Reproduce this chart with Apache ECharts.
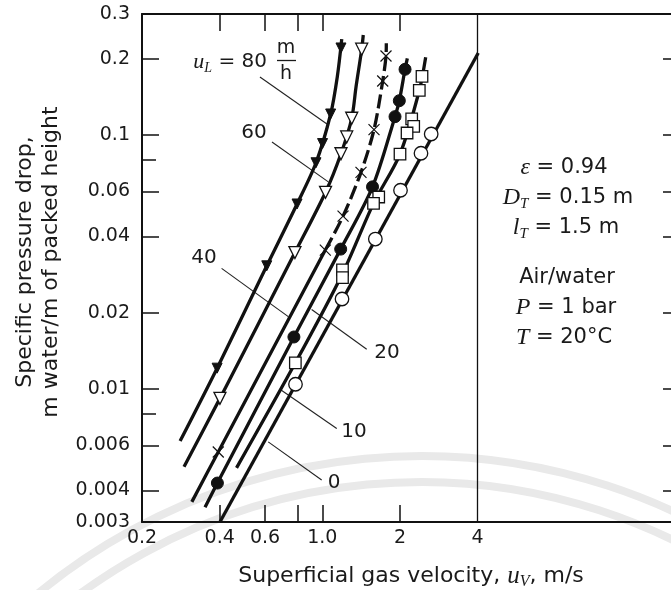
<!DOCTYPE html>
<html>
<head>
<meta charset="utf-8">
<title>Specific pressure drop vs superficial gas velocity</title>
<script src="https://cdn.jsdelivr.net/npm/echarts@6.0.0/dist/echarts.min.js"></script>
<style>
html,body{margin:0;padding:0;background:#ffffff;}
#chart{width:671px;height:590px;}
</style>
</head>
<body>
<div id="chart"></div>
<script>
// ---------- axis ticks and labels ----------
const xTickValues = [0.4, 0.6, 0.8, 1.0, 2];
const xLabelValues = [0.2, 0.4, 0.6, 1.0, 2, 4];
const xLabelTexts = ['0.2', '0.4', '0.6', '1.0', '2', '4'];
const yTickValues = [0.2, 0.1, 0.06, 0.04, 0.02, 0.01, 0.006, 0.004];
const yMinorTickValues = [0.08, 0.008];
const yLabelValues = [0.3, 0.2, 0.1, 0.06, 0.04, 0.02, 0.01, 0.006, 0.004, 0.003];
const yLabelTexts = ['0.3', '0.2', '0.1', '0.06', '0.04', '0.02', '0.01', '0.006', '0.004', '0.003'];
const rightTickValues = [0.2, 0.1, 0.06, 0.04, 0.02, 0.01, 0.006, 0.004];
const panelBoundary = 4;

// ---------- u_L = 80 m/h (filled down-triangles) ----------
const pts80 = [[1.181,0.2205],[1.077,0.1212],[1.002,0.0927],[0.945,0.0779],[0.798,0.0536],[0.609,0.0306],[0.391,0.0121]];
const curve80 = [[0.281,0.00625],[0.391,0.0121],[0.609,0.0306],[0.798,0.0536],[0.945,0.0779],[1.077,0.1212],[1.143,0.17],[1.189,0.239]];

// ---------- u_L = 60 (open down-triangles) ----------
const pts60 = [[1.421,0.218],[1.30,0.1166],[1.243,0.0984],[1.181,0.0845],[1.029,0.0596],[0.783,0.0345],[0.401,0.0092]];
const curve60 = [[0.291,0.00495],[0.401,0.0092],[0.783,0.0345],[1.029,0.0596],[1.181,0.0845],[1.30,0.1166],[1.351,0.155],[1.421,0.218],[1.441,0.248]];

// ---------- u_L = 40 (crosses) ----------
const pts40 = [[1.765,0.205],[1.714,0.1634],[1.586,0.1052],[1.412,0.0714],[1.203,0.048],[1.027,0.0353],[0.395,0.00566]];
const curve40Solid = [[0.312,0.0036],[0.395,0.00566],[1.027,0.0353]];
const curve40Dashed = [[1.027,0.0353],[1.203,0.048],[1.412,0.0714],[1.586,0.1052],[1.714,0.1634],[1.765,0.205],[1.77,0.23]];

// ---------- u_L = 20 (filled circles) ----------
const pts20 = [[2.092,0.1817],[1.988,0.1367],[1.913,0.1183],[1.565,0.0626],[1.178,0.0356],[0.776,0.01605],[0.392,0.00427]];
const curve20 = [[0.351,0.00343],[0.392,0.00427],[0.776,0.01605],[1.178,0.0356],[1.565,0.0626],[1.913,0.1183],[1.988,0.1367],[2.092,0.1817],[2.135,0.2007]];

// ---------- u_L = 10 (open squares) ----------
const pts10 = [[2.434,0.1705],[2.376,0.150],[2.22,0.116],[2.26,0.1084],[2.13,0.102],[2.0,0.0843],[1.654,0.0571],[1.579,0.0539],[1.197,0.0295],[1.197,0.0275],[0.786,0.0127]];
const curve10 = [[0.465,0.0049],[0.786,0.0127],[1.197,0.0285],[1.579,0.0539],[2.0,0.0843],[2.376,0.150],[2.515,0.2027]];

// ---------- u_L = 0 (open circles) ----------
const pts0 = [[2.642,0.1011],[2.412,0.0849],[2.009,0.0607],[1.605,0.039],[1.192,0.02265],[0.787,0.01046]];
const curve0 = [[0.401,0.003],[4.02,0.2107]];

// ---------- leader lines for curve labels ----------
const leader80 = [[0.573,0.1695],[1.042,0.1107]];
const leader60 = [[0.638,0.094],[1.055,0.0655]];
const leader40 = [[0.407,0.0299],[0.738,0.0193]];
const leader20 = [[1.486,0.01436],[0.909,0.0206]];
const leader10 = [[1.137,0.007],[0.685,0.00999]];
const leader0  = [[0.994,0.00439],[0.617,0.0062]];

// ---------- presentation ----------
const INK = '#111111';
const TXT = '#1a1a1a';
const SANS = '"DejaVu Sans", Verdana, sans-serif';
const SERIF = '"Liberation Serif", "Times New Roman", serif';
const FS_TICK = 19, FS_CURVE = 20, FS_NOTE = 21, FS_TITLE = 22;
const GRID_LEFT = 142, GRID_TOP = 14, GRID_RIGHT = -10, GRID_BOTTOM = 68;
const X_DECADE_PX = 258;
const XMIN = 0.2;
const XMAX = XMIN * Math.pow(10, (671 - GRID_RIGHT - GRID_LEFT) / X_DECADE_PX);
const YMIN = 0.003, YMAX = 0.3;

function lookup(vals, texts, v) {
  for (let i = 0; i < vals.length; i++) {
    if (Math.abs(vals[i] - v) / vals[i] < 1e-4) return texts[i];
  }
  return '';
}

function curve(pts, dashed) {
  return {
    type: 'line', data: pts, smooth: 0.3, symbol: 'none', silent: true, z: 3,
    lineStyle: { color: INK, width: 3.3, type: dashed ? [14, 5] : 'solid', cap: 'butt', opacity: 1 }
  };
}
function leader(pts) {
  return {
    type: 'line', data: pts, symbol: 'none', silent: true, z: 2,
    lineStyle: { color: '#222', width: 1.1, opacity: 1 }
  };
}
function markers(pts, symbol, size, filled, rotate, style) {
  return {
    type: 'scatter', data: pts, symbol: symbol, symbolSize: size, symbolRotate: rotate || 0,
    silent: true, z: 5,
    itemStyle: style || (filled
      ? { color: INK, borderColor: INK, borderWidth: 1, opacity: 1 }
      : { color: '#ffffff', borderColor: INK, borderWidth: 1.3, opacity: 1 })
  };
}

const chart = echarts.init(document.getElementById('chart'), null, { renderer: 'canvas' });

function richText(x, y, text, size, align) {
  const sz = size || FS_NOTE;
  return {
    type: 'text', x: x, y: y, silent: true, z: 10,
    style: {
      text: text, fill: TXT, fontFamily: SANS, fontSize: sz, lineHeight: 30,
      align: align || 'center', textAlign: align || 'center',
      verticalAlign: 'middle', textVerticalAlign: 'middle',
      rich: {
        i: { fontFamily: SERIF, fontStyle: 'italic', fontSize: Math.round(sz * 1.12), lineHeight: 30, fill: TXT, color: TXT },
        s: { fontFamily: SERIF, fontStyle: 'italic', fontSize: Math.round(sz * 0.72), lineHeight: 14, padding: [12, 0, 0, 0], fill: TXT, color: TXT }
      }
    }
  };
}

const option = {
  backgroundColor: '#ffffff',
  animation: false,
  grid: { left: GRID_LEFT, top: GRID_TOP, right: GRID_RIGHT, bottom: GRID_BOTTOM, containLabel: false, outerBoundsMode: 'none' },
  xAxis: [
    {
      type: 'log', logBase: 10, min: XMIN, max: XMAX, position: 'bottom',
      axisLine: { show: true, onZero: false, lineStyle: { color: INK, width: 2 } },
      axisTick: { show: true, inside: true, length: 17, customValues: xTickValues, lineStyle: { color: INK, width: 1.5 } },
      axisLabel: { show: true, customValues: xLabelValues, formatter: v => lookup(xLabelValues, xLabelTexts, v),
        color: TXT, fontSize: FS_TICK, fontFamily: SANS, margin: 7 },
      splitLine: { show: false }, minorTick: { show: false }
    },
    {
      type: 'log', logBase: 10, min: XMIN, max: XMAX, position: 'top',
      axisLine: { show: true, onZero: false, lineStyle: { color: INK, width: 2 } },
      axisTick: { show: true, inside: true, length: 17, customValues: xTickValues, lineStyle: { color: INK, width: 1.5 } },
      axisLabel: { show: false }, splitLine: { show: false }
    }
  ],
  yAxis: [
    {
      type: 'log', logBase: 10, min: YMIN, max: YMAX, position: 'left',
      axisLine: { show: true, onZero: false, lineStyle: { color: INK, width: 2 } },
      axisTick: { show: true, inside: true, length: 17, customValues: yTickValues, lineStyle: { color: INK, width: 1.5 } },
      axisLabel: { show: true, customValues: yLabelValues, formatter: v => lookup(yLabelValues, yLabelTexts, v),
        color: TXT, fontSize: FS_TICK, fontFamily: SANS, margin: 12 },
      splitLine: { show: false }, minorTick: { show: false }
    },
    {
      type: 'log', logBase: 10, min: YMIN, max: YMAX, position: 'right',
      axisLine: { show: false },
      axisTick: { show: true, inside: true, length: 18, customValues: rightTickValues, lineStyle: { color: INK, width: 1.5 } },
      axisLabel: { show: false }, splitLine: { show: false }
    },
    {
      type: 'log', logBase: 10, min: YMIN, max: YMAX, position: 'left',
      axisLine: { show: false },
      axisTick: { show: true, inside: true, length: 14, customValues: yMinorTickValues, lineStyle: { color: INK, width: 1.5 } },
      axisLabel: { show: false }, splitLine: { show: false }
    }
  ],
  series: [
    leader(leader80), leader(leader60), leader(leader40), leader(leader20), leader(leader10), leader(leader0),
    curve(curve80), curve(curve60), curve(curve40Solid), curve(curve40Dashed, true),
    curve(curve20), curve(curve10),
    Object.assign(curve(curve0), {
      markLine: { silent: true, symbol: 'none', label: { show: false },
        lineStyle: { color: INK, width: 1.3, type: 'solid', opacity: 1 }, data: [{ xAxis: panelBoundary }] }
    }),
    markers(pts80, 'triangle', 10, true, 180),
    markers(pts60, 'triangle', 12, false, 180),
    markers(pts40, 'path://M0,0L10,10M10,0L0,10', 11, false, 0,
      { color: 'none', borderColor: INK, borderWidth: 1.2, opacity: 1 }),
    markers(pts20, 'circle', 12, true),
    markers(pts10, 'rect', 11.5, false),
    markers(pts0, 'circle', 13.5, false)
  ],
  graphic: [
    // faint background arcs of the source page
    { type: 'arc', silent: true, z: -5, shape: { cx: 421, cy: 1058, r: 602, startAngle: -2.45, endAngle: -0.55 },
      style: { stroke: '#e9e9e9', lineWidth: 8, fill: 'none' } },
    { type: 'arc', silent: true, z: -5, shape: { cx: 421, cy: 1058, r: 576, startAngle: -2.45, endAngle: -0.55 },
      style: { stroke: '#e9e9e9', lineWidth: 8, fill: 'none' } },
    // axis titles
    { type: 'text', x: 25, y: 262, rotation: Math.PI / 2, silent: true,
      style: { text: 'Specific pressure drop,', fill: TXT, fontFamily: SANS, fontSize: FS_TITLE,
        align: 'center', textAlign: 'center', verticalAlign: 'middle', textVerticalAlign: 'middle' } },
    { type: 'text', x: 51, y: 262, rotation: Math.PI / 2, silent: true,
      style: { text: 'm water/m of packed height', fill: TXT, fontFamily: SANS, fontSize: FS_TITLE,
        align: 'center', textAlign: 'center', verticalAlign: 'middle', textVerticalAlign: 'middle' } },
    richText(411, 576, 'Superficial gas velocity, {i|u}{s|V}, m/s', FS_TITLE),
    // curve labels
    richText(267, 62, '{i|u}{s|L} = 80', FS_CURVE, 'right'),
    richText(286, 48, 'm', 19),
    richText(286, 74, 'h', 19),
    { type: 'line', silent: true, shape: { x1: 277, y1: 60.5, x2: 296, y2: 60.5 }, style: { stroke: TXT, lineWidth: 1.3 } },
    richText(254, 133, '60', FS_CURVE),
    richText(204, 258, '40', FS_CURVE),
    richText(387, 353, '20', FS_CURVE),
    richText(354, 432, '10', FS_CURVE),
    richText(334, 483, '0', FS_CURVE),
    // conditions box
    richText(564, 168, '{i|ε} = 0.94'),
    richText(568, 198, '{i|D}{s|T} = 0.15 m'),
    richText(566, 228, '{i|l}{s|T} = 1.5 m'),
    richText(567, 278, 'Air/water'),
    richText(566, 308, '{i|P} = 1 bar'),
    richText(564, 338, '{i|T} = 20°C')
  ]
};

chart.setOption(option);
</script>
</body>
</html>
